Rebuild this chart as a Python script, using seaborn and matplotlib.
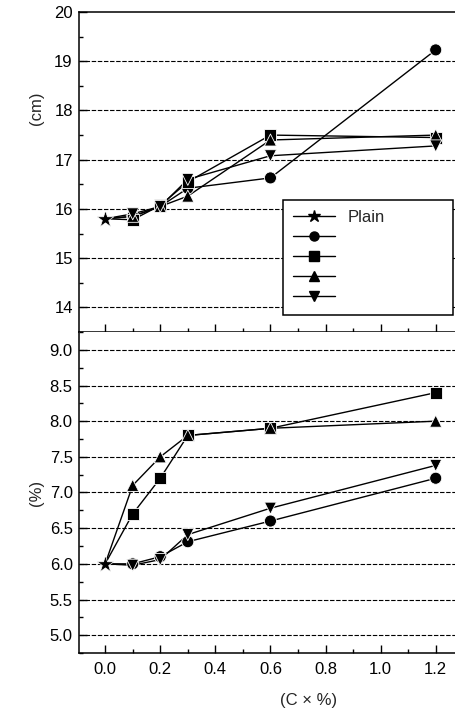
import matplotlib
matplotlib.use('Agg')
import matplotlib.pyplot as plt
from matplotlib.lines import Line2D
from matplotlib.ticker import MultipleLocator
import seaborn as sns
import pandas as pd

# 数据
conc = [0.1, 0.2, 0.3, 0.6, 1.2]
plain_cm = 15.8
plain_pct = 6.0

cm_circle = [15.85, 16.05, 16.42, 16.63, 19.23]
cm_square = [15.78, 16.07, 16.55, 17.50, 17.45]
cm_up = [15.85, 16.05, 16.26, 17.40, 17.50]
cm_down = [15.90, 16.05, 16.60, 17.08, 17.28]

pct_circle = [6.00, 6.10, 6.31, 6.60, 7.20]
pct_square = [6.70, 7.20, 7.80, 7.90, 8.40]
pct_up = [7.10, 7.50, 7.80, 7.90, 8.00]
pct_down = [5.98, 6.06, 6.41, 6.78, 7.38]

series = ['c', 's', 'u', 'd']
markers = {'c': 'o', 's': 's', 'u': '^', 'd': 'v'}
legend_labels = ['Plain', '', '', '', '']


def build(plain, vals):
    rows = []
    for name, v in zip(series, vals):
        rows.append((name, 0.0, plain))
        for x, y in zip(conc, v):
            rows.append((name, x, y))
    return pd.DataFrame(rows, columns=['series', 'x', 'y'])


df_cm = build(plain_cm, [cm_circle, cm_square, cm_up, cm_down])
df_pct = build(plain_pct, [pct_circle, pct_square, pct_up, pct_down])

sns.set_theme(style='ticks')
plt.rcParams['font.family'] = ['Liberation Sans', 'DejaVu Sans']
plt.rcParams['font.size'] = 12
plt.rcParams['xtick.direction'] = 'in'
plt.rcParams['ytick.direction'] = 'in'

FS = 12

fig = plt.figure(figsize=(4.55, 7.13), dpi=100)
L, R = 79 / 455, 1.0
ax1 = fig.add_axes([L, 1 - 332 / 713, R - L, 320 / 713])
ax2 = fig.add_axes([L, 1 - 653 / 713, R - L, 321 / 713], sharex=ax1)


def draw(ax, df, plain):
    sns.lineplot(data=df, x='x', y='y', units='series', estimator=None,
                 color='black', linewidth=1.0, ax=ax, legend=False, sort=False)
    pts = df[df['x'] > 0]
    sns.scatterplot(data=pts, x='x', y='y', style='series', markers=markers,
                    color='black', s=75, edgecolor='white', linewidth=0.6,
                    ax=ax, legend=False, zorder=5)
    ax.scatter([0.0], [plain], marker='*', s=160, color='black',
               edgecolor='white', linewidth=0.5, zorder=6)
    ax.set_xlabel('')
    ax.set_ylabel('')
    ax.spines['right'].set_visible(False)
    for s in ['left', 'top', 'bottom']:
        ax.spines[s].set_linewidth(1.1)
        ax.spines[s].set_color('black')
    ax.tick_params(axis='both', which='major', length=6, width=1, color='black',
                   labelsize=FS, labelcolor='black')
    ax.tick_params(axis='both', which='minor', length=3, width=1, color='black')
    ax.tick_params(axis='y', which='major', pad=4.5)
    ax.tick_params(axis='x', which='major', pad=6.5)
    ax.tick_params(axis='x', top=False, which='both')


draw(ax1, df_cm, plain_cm)
draw(ax2, df_pct, plain_pct)

ax1.set_xlim(-0.095, 1.27)
ax1.set_ylim(13.5, 20)
ax1.yaxis.set_major_locator(MultipleLocator(1))
ax1.yaxis.set_minor_locator(MultipleLocator(0.5))
ax1.xaxis.set_major_locator(MultipleLocator(0.2))
ax1.xaxis.set_minor_locator(MultipleLocator(0.1))
ax1.tick_params(axis='x', labelbottom=False)
for y in [14, 15, 16, 17, 18, 19]:
    ax1.axhline(y, color='black', linestyle=(0, (4, 1.5)), linewidth=0.8, zorder=1)

ax2.set_ylim(4.75, 9.25)
ax2.yaxis.set_major_locator(MultipleLocator(0.5))
ax2.yaxis.set_minor_locator(MultipleLocator(0.25))
ax2.yaxis.set_major_formatter(plt.FormatStrFormatter('%.1f'))
ax2.xaxis.set_major_formatter(plt.FormatStrFormatter('%.1f'))
ax2.spines['top'].set_visible(False)
for y in [5.0, 5.5, 6.0, 6.5, 7.0, 7.5, 8.0, 8.5, 9.0]:
    ax2.axhline(y, color='black', linestyle=(0, (4, 1.5)), linewidth=0.8, zorder=1)

ax1.set_ylabel('(cm)', fontsize=FS)
ax1.yaxis.set_label_coords(-0.094, 0.70)
ax2.set_ylabel('(%)', fontsize=FS)
ax2.yaxis.set_label_coords(-0.094, 0.5)
ax2.set_xlabel('(C \u00d7 %)', fontsize=FS)
ax2.xaxis.set_label_coords(0.61, -0.125)

handles = [Line2D([0], [0], color='black', lw=1.0, marker=m, markersize=ms,
                  markerfacecolor='black', markeredgecolor='black')
           for m, ms in zip(['*', 'o', 's', '^', 'v'], [9, 6.5, 6.5, 7, 7])]
leg = ax1.legend(handles, legend_labels, loc='upper left', mode='expand',
                 bbox_to_anchor=(283 / 455, 1 - 200 / 713, 170 / 455, 0),
                 bbox_transform=fig.transFigure, borderaxespad=0,
                 fancybox=False, framealpha=1, edgecolor='black',
                 handlelength=2.5, labelspacing=0.3, borderpad=0.6,
                 fontsize=FS)
leg.get_frame().set_linewidth(1.1)

fig.savefig('out.png', dpi=100)
